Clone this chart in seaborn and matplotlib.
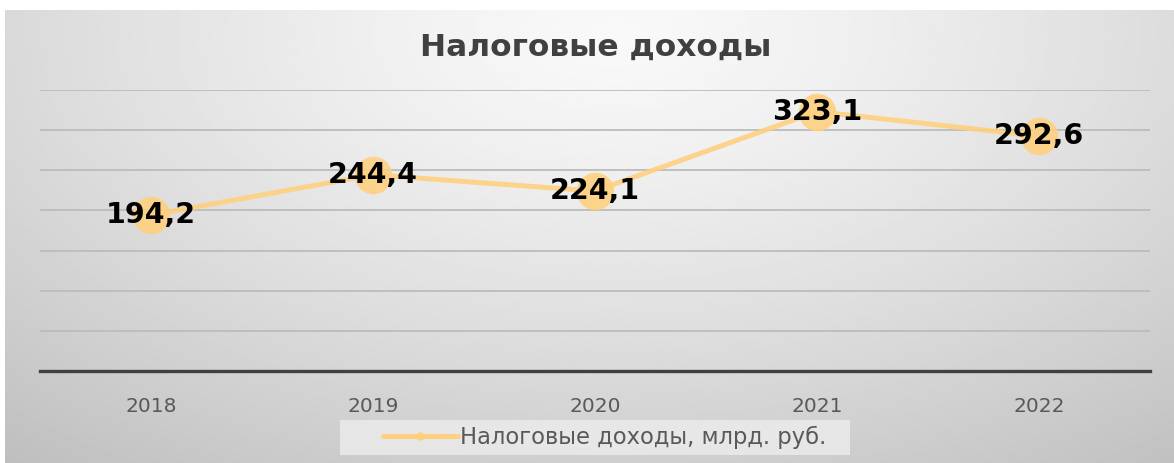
import numpy as np
import pandas as pd
import matplotlib
matplotlib.use("Agg")
import matplotlib.pyplot as plt
import seaborn as sns
from matplotlib.lines import Line2D
from matplotlib.patches import Rectangle

# Tax revenue by year, bln rubles
years = ["2018", "2019", "2020", "2021", "2022"]
revenue = [194.2, 244.4, 224.1, 323.1, 292.6]
series_name = "Налоговые доходы, млрд. руб."
title_text = "Налоговые доходы"

sns.set_theme(style="white")
plt.rcParams["font.family"] = ["DejaVu Sans"]

W, H = 1174, 463
fig = plt.figure(figsize=(W / 100, H / 100), dpi=100)
fig.patch.set_facecolor("white")

# Soft radial grey background panel
bg = fig.add_axes([5 / W, 0, 1 - 5 / W, (H - 10) / H])
bg.set_axis_off()
gx, gy = np.meshgrid(np.linspace(0, 1, 600), np.linspace(0, 1, 300))
d = np.sqrt(((gx - 0.52) / 0.75) ** 2 + ((gy - 0.05) / 1.1) ** 2)
shade = np.clip(0.975 - 0.2 * d ** 1.3, 0.74, 1.0)
bg.imshow(shade, cmap="gray", vmin=0, vmax=1, aspect="auto",
          extent=[0, 1, 1, 0], interpolation="bilinear")
bg.set_xlim(0, 1)
bg.set_ylim(1, 0)

# Plot area
ax = fig.add_axes([40 / W, (H - 371) / H, 1110 / W, (371 - 90) / H])
ax.patch.set_alpha(0)

df = pd.DataFrame({"year": years, "value": revenue})
line_color = "#FFD07E"
sns.lineplot(data=df, x="year", y="value", ax=ax, color=line_color,
             linewidth=3.6, marker="o", markersize=27,
             markerfacecolor=line_color, markeredgewidth=0,
             alpha=0.88, sort=False, label=series_name, legend=False)

for i, v in enumerate(revenue):
    ax.text(i, v, f"{v:.1f}".replace(".", ","), ha="center", va="center",
            fontsize=20.5, fontweight="bold", color="black", zorder=5)

ax.set_xlim(-0.5, len(years) - 0.5)
ax.set_ylim(0, 350)
ax.set_yticks(np.arange(0, 351, 50))
ax.yaxis.grid(True, color="#bcbcbc", linewidth=1.3)
ax.xaxis.grid(False)
ax.set_axisbelow(True)
ax.tick_params(axis="y", left=False, labelleft=False)
ax.tick_params(axis="x", bottom=False, labelsize=14.5, labelcolor="#595959", pad=13)
ax.set_xlabel("")
ax.set_ylabel("")
for s in ["top", "right", "left"]:
    ax.spines[s].set_visible(False)
ax.spines["bottom"].set_color("#404040")
ax.spines["bottom"].set_linewidth(2.4)

fig.text(596 / W, (H - 47) / H, title_text, ha="center", va="center",
         fontsize=22.5, fontweight="bold", color="#404040")

# Legend panel
fig.patches.append(Rectangle((340 / W, (H - 455) / H), 510 / W, 35 / H,
                             transform=fig.transFigure, facecolor="#ebebeb",
                             edgecolor="none", alpha=0.85, zorder=1))
handle = Line2D([], [], color=line_color, linewidth=3.6, marker="o",
                markersize=6, markerfacecolor=line_color, markeredgewidth=0)
leg = fig.legend([handle], [series_name], loc="center left",
                 bbox_to_anchor=(383 / W, (H - 437) / H), frameon=False,
                 fontsize=16.3, handlelength=3.3,
                 handletextpad=0.1, borderpad=0, borderaxespad=0)
for t in leg.get_texts():
    t.set_color("#595959")

fig.savefig("out.png", dpi=100)
